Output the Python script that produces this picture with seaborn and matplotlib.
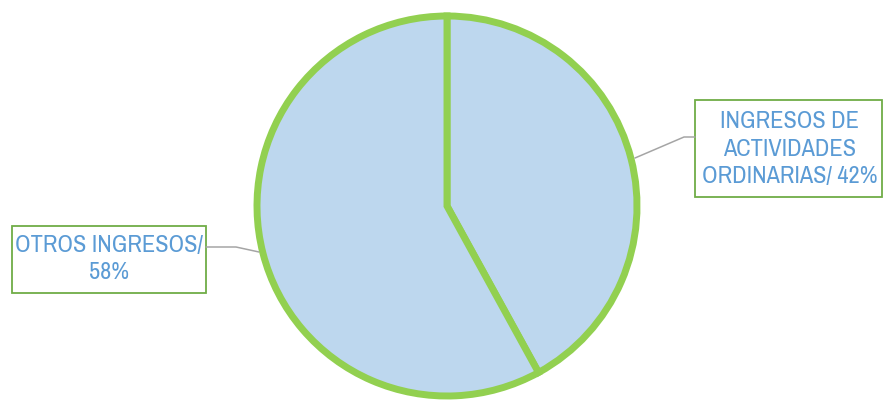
import matplotlib
matplotlib.use("Agg")
import matplotlib.pyplot as plt
import seaborn as sns
from matplotlib.patches import Rectangle
from matplotlib import font_manager as fm

sns.set_theme(style="white")

categories = ["INGRESOS DE\nACTIVIDADES\nORDINARIAS", "OTROS INGRESOS"]
values = [42, 58]
label_texts = ["INGRESOS DE\nACTIVIDADES\nORDINARIAS/ 42%", "OTROS INGRESOS/\n58%"]

# look for a narrow font (Calibri-like look)
narrow = None
for f in fm.fontManager.ttflist:
    n = f.name.lower()
    if ("narrow" in n or "condensed" in n) and "bold" not in f.fname.lower() and f.style == "normal":
        narrow = f
        break
if narrow is not None:
    fprops = dict(fontproperties=fm.FontProperties(fname=narrow.fname, size=17.5))
else:
    fprops = dict(family="Liberation Sans", fontsize=14)

W, H = 883, 401
fig = plt.figure(figsize=(W / 100, H / 100), dpi=100)
ax = fig.add_axes([0, 0, 1, 1])

fill = "#BDD7EE"
edge = "#92D050"
txt_color = "#5B9BD5"
box_edge = "#70AD47"
leader = "#A5A5A5"

cx, cy, r = 447, H - 206, 190
ax.pie(values, colors=[fill, fill], startangle=90, counterclock=False,
       center=(cx, cy), radius=r,
       wedgeprops=dict(edgecolor=edge, linewidth=5.0, joinstyle="miter"))
ax.set_xlim(0, W)
ax.set_ylim(0, H)
ax.set_aspect("auto")
ax.axis("off")

def Y(y):
    return H - y

# right label box
ax.add_patch(Rectangle((695, Y(197)), 187, 97, facecolor="white", edgecolor=box_edge, linewidth=1.3))
ax.text(790, Y(149), label_texts[0], ha="center", va="center", color=txt_color,
        linespacing=1.38, **fprops)
ax.plot([635, 684, 695], [Y(158), Y(137), Y(137)], color=leader, linewidth=1.1)

# left label box
ax.add_patch(Rectangle((12, Y(293)), 194, 67, facecolor="white", edgecolor=box_edge, linewidth=1.3))
ax.text(109, Y(259), label_texts[1], ha="center", va="center", color=txt_color,
        linespacing=1.38, **fprops)
ax.plot([206, 236, 259], [Y(247), Y(247), Y(252)], color=leader, linewidth=1.1)

fig.savefig("out.png", dpi=100, facecolor="white")
